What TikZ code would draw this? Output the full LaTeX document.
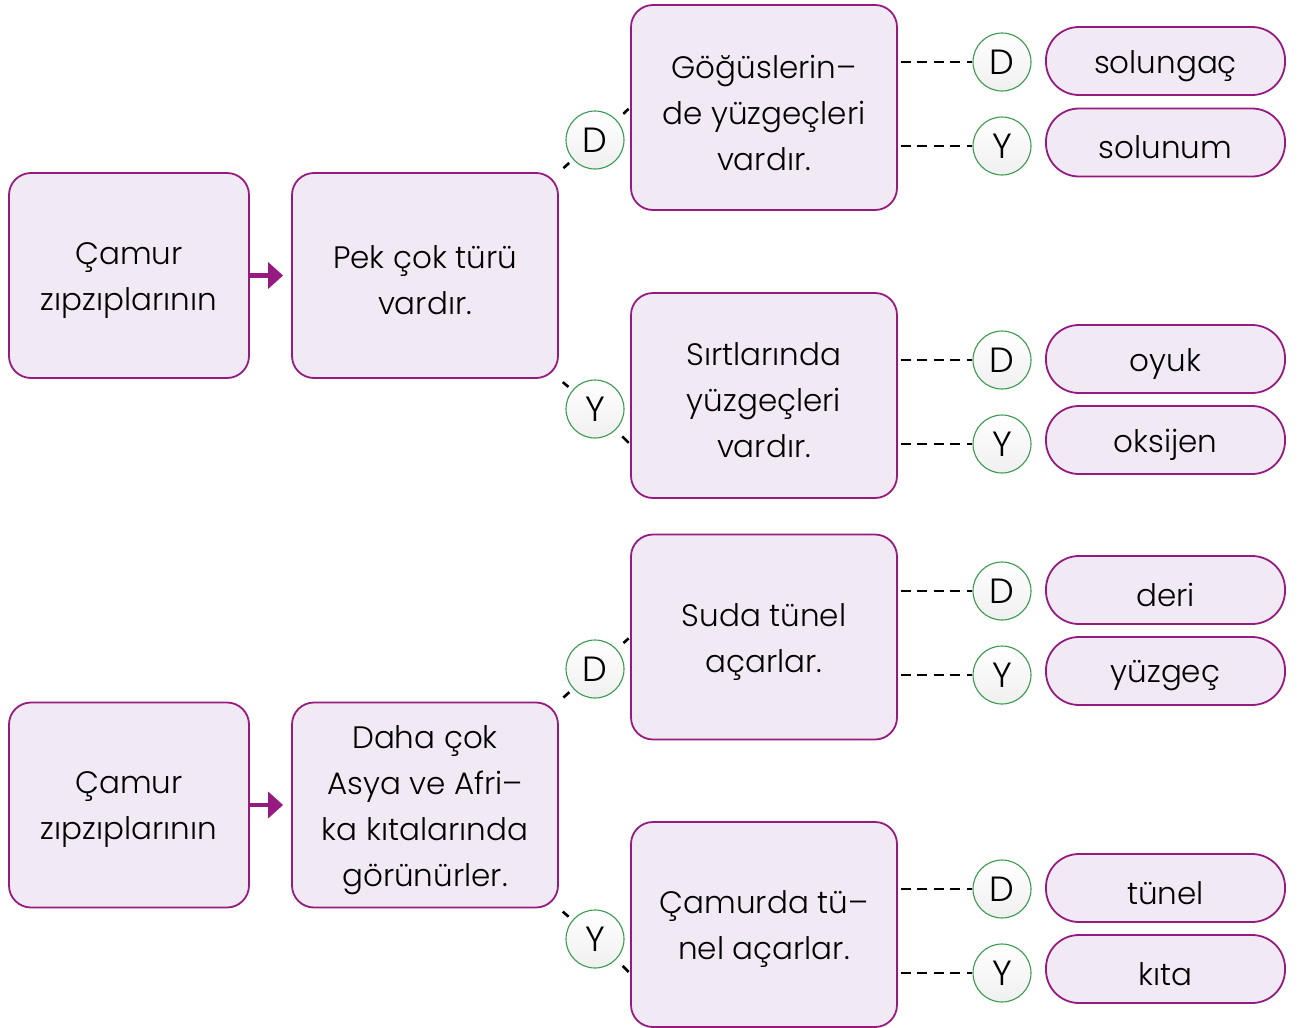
\documentclass[tikz,border=0pt]{standalone}
\usepackage{fontspec}
\setmainfont{Poppins}[UprightFont=*-Light]
\usetikzlibrary{arrows.meta,calc}
\definecolor{boxfill}{HTML}{F1E9F4}
\definecolor{boxline}{HTML}{951B81}
\definecolor{circline}{HTML}{3A9A4F}
\tikzset{
  card/.style={draw=boxline, fill=boxfill, line width=1.8pt, rounded corners=22pt,
    minimum width=266pt, minimum height=205pt, inner sep=0pt},
  startcard/.style={card, minimum width=240pt},
  cardtext/.style={align=center, font=\fontsize{31}{46}\selectfont, inner sep=0pt},
  answer/.style={draw=boxline, fill=boxfill, line width=1.8pt, rounded corners=33pt,
    minimum width=239pt, minimum height=68pt, inner sep=0pt},
  answertext/.style={font=\fontsize{31}{40}\selectfont, inner sep=0pt},
  dybadge/.style={circle, draw=circline, line width=1.1pt, minimum size=58pt, inner sep=0pt,
    top color=white, bottom color=gray!12, font=\fontsize{35}{38}\selectfont},
  seg/.style={line width=2.6pt, black},
  dsh/.style={line width=2.6pt, black, dash pattern=on 10pt off 6.5pt, shorten <=3pt},
  go/.style={line width=4.5pt, boxline, -{Triangle[length=15pt,width=26pt]}, shorten >=8pt}
}
\begin{document}
\begin{tikzpicture}[x=1pt,y=-1pt]
\useasboundingbox (0,0) rectangle (1299,1028);
% ---------- top group ----------
\node[startcard] (A1) at (129,275.5) {};
\node[cardtext] (A1t) at ([yshift=-5pt]A1.center) {Çamur\\zıpzıplarının};
\node[card] (B1) at (425,275.5) {};
\node[cardtext] (B1t) at ([yshift=-5pt]B1.center) {Pek çok türü\\vardır.};
\node[card] (C1) at (764,107.5) {};
\node[cardtext] (C1t) at ([yshift=-5pt]C1.center) {Göğüslerin–\\de yüzgeçleri\\vardır.};
\node[card] (C2) at (764,395.5) {};
\node[cardtext] (C2t) at ([yshift=-5pt]C2.center) {Sırtlarında\\yüzgeçleri\\vardır.};
\draw[go] (A1.east) -- (B1.west);
\node[dybadge] (d1) at (595,140) {D};
\node[dybadge] (y1) at (595,409) {Y};
\draw[seg, shorten <=5pt, shorten >=6pt] (d1) -- (B1.north east);
\draw[seg, shorten <=9pt, shorten >=2pt] (d1) -- (C1.west);
\draw[seg, shorten <=5pt, shorten >=5pt] (y1) -- (B1.south east);
\draw[seg, shorten <=9pt, shorten >=2pt] (y1) -- (C2.200);
% answers C1
\node[dybadge] (d11) at (1002,62) {D};
\node[dybadge] (y11) at (1002,146) {Y};
\node[answer] (a11) at (1165.5,61) {};
\node[answertext] (a11t) at ([yshift=-5pt]a11.center) {solungaç};
\node[answer] (a12) at (1165.5,142.5) {};
\node[answertext] (a12t) at ([yshift=-5pt]a12.center) {solunum};
\draw[dsh] (C1.east |- d11.west) -- (d11.west);
\draw[dsh] (C1.east |- y11.west) -- (y11.west);
% answers C2
\node[dybadge] (d21) at (1002,360) {D};
\node[dybadge] (y21) at (1002,444) {Y};
\node[answer] (a21) at (1165.5,359) {};
\node[answertext] (a21t) at ([yshift=-5pt]a21.center) {oyuk};
\node[answer] (a22) at (1165.5,440) {};
\node[answertext] (a22t) at ([yshift=-5pt]a22.center) {oksijen};
\draw[dsh] (C2.east |- d21.west) -- (d21.west);
\draw[dsh] (C2.east |- y21.west) -- (y21.west);
% ---------- bottom group ----------
\node[startcard] (A2) at (129,805) {};
\node[cardtext] (A2t) at ([yshift=-5pt]A2.center) {Çamur\\zıpzıplarının};
\node[card] (B2) at (425,805) {};
\node[cardtext] (B2t) at ([yshift=-5pt]B2.center) {Daha çok\\Asya ve Afri–\\ka kıtalarında\\görünürler.};
\node[card] (C3) at (764,637) {};
\node[cardtext] (C3t) at ([yshift=-5pt]C3.center) {Suda tünel\\açarlar.};
\node[card] (C4) at (764,924.5) {};
\node[cardtext] (C4t) at ([yshift=-5pt]C4.center) {Çamurda tü–\\nel açarlar.};
\draw[go] (A2.east) -- (B2.west);
\node[dybadge] (d2) at (595,669) {D};
\node[dybadge] (y2) at (595,939) {Y};
\draw[seg, shorten <=5pt, shorten >=6pt] (d2) -- (B2.north east);
\draw[seg, shorten <=9pt, shorten >=2pt] (d2) -- (C3.west);
\draw[seg, shorten <=5pt, shorten >=5pt] (y2) -- (B2.south east);
\draw[seg, shorten <=9pt, shorten >=2pt] (y2) -- (C4.200);
% answers C3
\node[dybadge] (d31) at (1002,591) {D};
\node[dybadge] (y31) at (1002,675) {Y};
\node[answer] (a31) at (1165.5,590) {};
\node[answertext] (a31t) at ([yshift=-5pt]a31.center) {deri};
\node[answer] (a32) at (1165.5,671) {};
\node[answertext] (a32t) at ([yshift=-5pt]a32.center) {yüzgeç};
\draw[dsh] (C3.east |- d31.west) -- (d31.west);
\draw[dsh] (C3.east |- y31.west) -- (y31.west);
% answers C4
\node[dybadge] (d41) at (1002,889) {D};
\node[dybadge] (y41) at (1002,973) {Y};
\node[answer] (a41) at (1165.5,888) {};
\node[answertext] (a41t) at ([yshift=-5pt]a41.center) {tünel};
\node[answer] (a42) at (1165.5,969) {};
\node[answertext] (a42t) at ([yshift=-5pt]a42.center) {kıta};
\draw[dsh] (C4.east |- d41.west) -- (d41.west);
\draw[dsh] (C4.east |- y41.west) -- (y41.west);
\end{tikzpicture}
\end{document}
